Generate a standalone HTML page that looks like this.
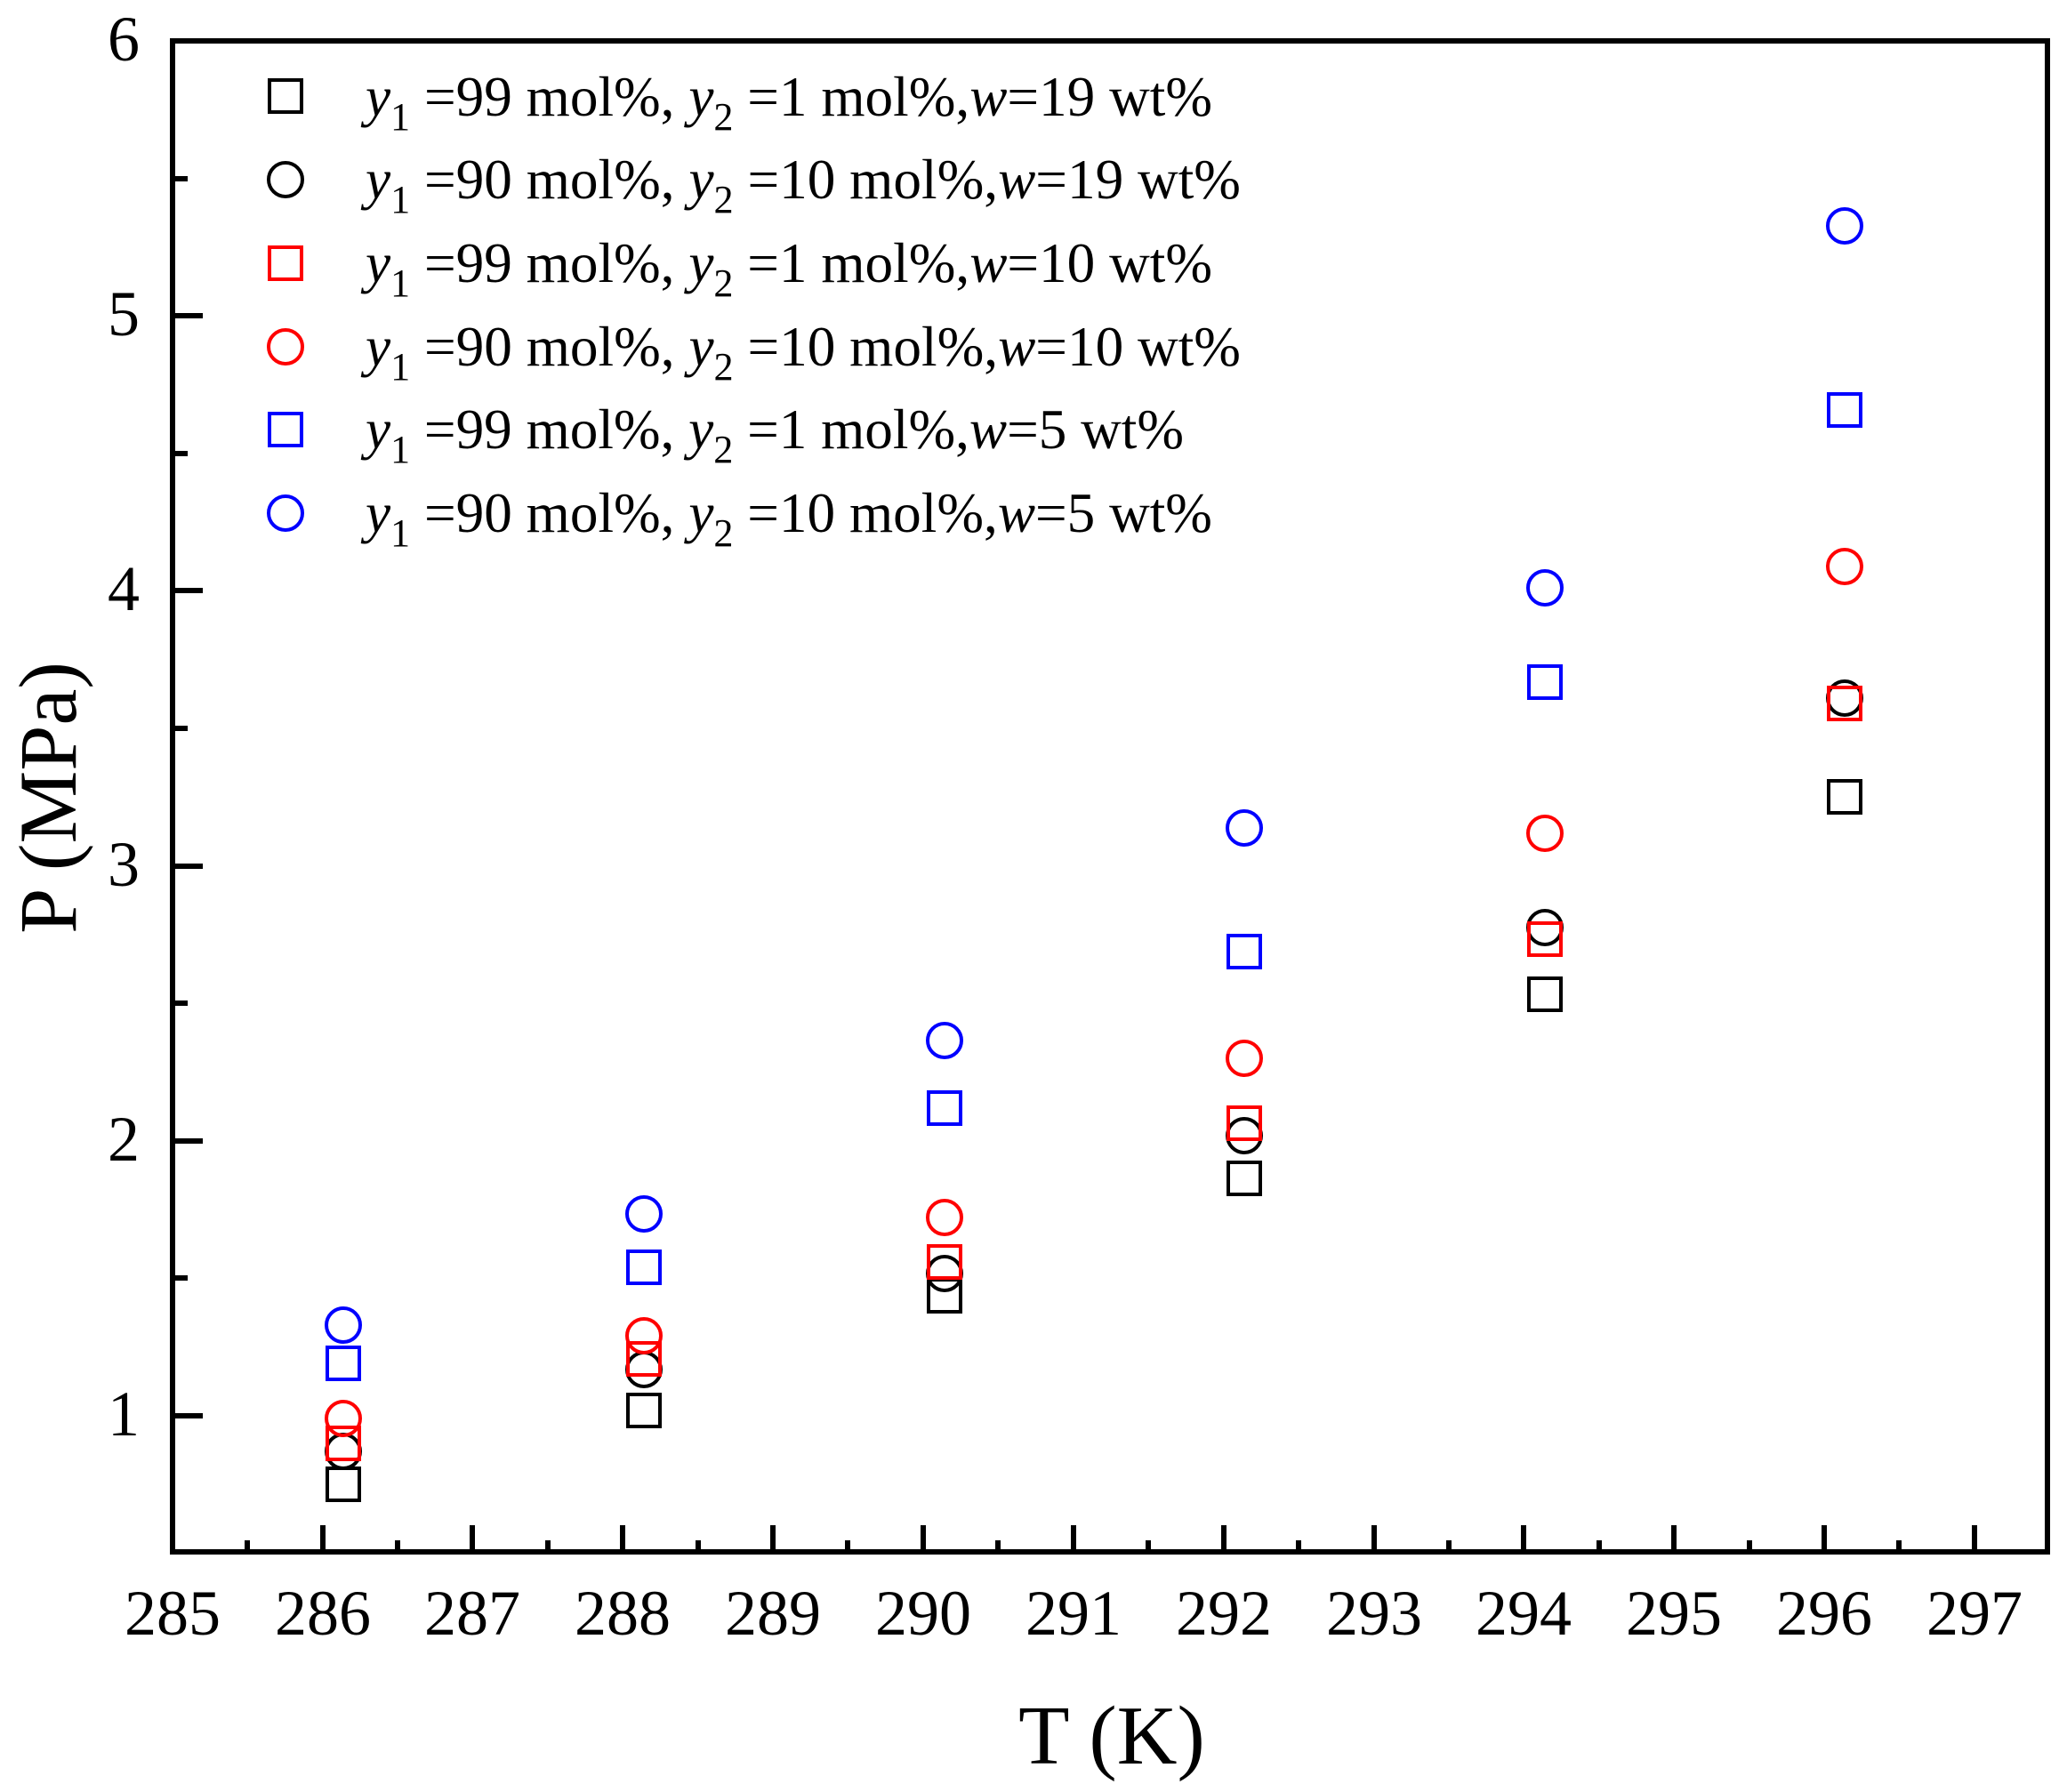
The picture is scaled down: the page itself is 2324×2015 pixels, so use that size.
<!DOCTYPE html>
<html><head><meta charset="utf-8"><style>
html,body{margin:0;padding:0;background:#fff;}
svg{display:block;}
text{font-family:"Liberation Serif",serif;fill:#000;}
</style></head><body>
<svg width="2324" height="2015" viewBox="0 0 2324 2015" xmlns="http://www.w3.org/2000/svg">
<rect x="194" y="46" width="2108" height="1699" fill="none" stroke="#000" stroke-width="6"/>
<g stroke="#000" stroke-width="6">
<line x1="363" y1="1745" x2="363" y2="1715"/><line x1="531" y1="1745" x2="531" y2="1715"/>
<line x1="700" y1="1745" x2="700" y2="1715"/><line x1="869" y1="1745" x2="869" y2="1715"/>
<line x1="1038" y1="1745" x2="1038" y2="1715"/><line x1="1207" y1="1745" x2="1207" y2="1715"/>
<line x1="1376" y1="1745" x2="1376" y2="1715"/><line x1="1545" y1="1745" x2="1545" y2="1715"/>
<line x1="1713" y1="1745" x2="1713" y2="1715"/><line x1="1882" y1="1745" x2="1882" y2="1715"/>
<line x1="2051" y1="1745" x2="2051" y2="1715"/><line x1="2220" y1="1745" x2="2220" y2="1715"/>
<line x1="278" y1="1745" x2="278" y2="1732"/><line x1="447" y1="1745" x2="447" y2="1732"/>
<line x1="616" y1="1745" x2="616" y2="1732"/><line x1="785" y1="1745" x2="785" y2="1732"/>
<line x1="953" y1="1745" x2="953" y2="1732"/><line x1="1122" y1="1745" x2="1122" y2="1732"/>
<line x1="1291" y1="1745" x2="1291" y2="1732"/><line x1="1460" y1="1745" x2="1460" y2="1732"/>
<line x1="1629" y1="1745" x2="1629" y2="1732"/><line x1="1798" y1="1745" x2="1798" y2="1732"/>
<line x1="1967" y1="1745" x2="1967" y2="1732"/><line x1="2135" y1="1745" x2="2135" y2="1732"/>
<line x1="194" y1="355" x2="228" y2="355"/><line x1="194" y1="664" x2="228" y2="664"/>
<line x1="194" y1="974" x2="228" y2="974"/><line x1="194" y1="1283" x2="228" y2="1283"/>
<line x1="194" y1="1592" x2="228" y2="1592"/>
<line x1="194" y1="201" x2="211" y2="201"/><line x1="194" y1="510" x2="211" y2="510"/>
<line x1="194" y1="819" x2="211" y2="819"/><line x1="194" y1="1128" x2="211" y2="1128"/>
<line x1="194" y1="1437" x2="211" y2="1437"/>
</g>
<g font-size="72" text-anchor="middle">
<text x="194" y="1838">285</text><text x="363" y="1838">286</text><text x="531" y="1838">287</text>
<text x="700" y="1838">288</text><text x="869" y="1838">289</text><text x="1038" y="1838">290</text>
<text x="1207" y="1838">291</text><text x="1376" y="1838">292</text><text x="1545" y="1838">293</text>
<text x="1713" y="1838">294</text><text x="1882" y="1838">295</text><text x="2051" y="1838">296</text>
<text x="2220" y="1838">297</text>
</g>
<g font-size="72" text-anchor="end">
<text x="157" y="68">6</text><text x="157" y="377">5</text><text x="157" y="686">4</text>
<text x="157" y="996">3</text><text x="157" y="1305">2</text><text x="157" y="1614">1</text>
</g>
<text x="1250" y="1983" font-size="94" text-anchor="middle">T (K)</text>
<text transform="translate(85,897) rotate(-90)" font-size="92" text-anchor="middle">P (MPa)</text>
<g stroke-width="4" fill="none">
<rect x="303" y="90" width="36" height="36" stroke="#000"/>
<circle cx="321" cy="202" r="19" stroke="#000"/>
<rect x="303" y="278" width="36" height="36" stroke="#f00"/>
<circle cx="321" cy="390" r="19" stroke="#f00"/>
<rect x="303" y="465" width="36" height="36" stroke="#00f"/>
<circle cx="321" cy="577" r="19" stroke="#00f"/>
</g>
<g font-size="63">
<text x="411" y="130" textLength="952" lengthAdjust="spacingAndGlyphs"><tspan font-style="italic">y</tspan><tspan font-size="44" dy="16">1</tspan><tspan dy="-16"> =99 mol%, </tspan><tspan font-style="italic">y</tspan><tspan font-size="44" dy="16">2</tspan><tspan dy="-16"> =1 mol%,</tspan><tspan font-style="italic">w</tspan><tspan>=19 wt%</tspan></text>
<text x="411" y="223" textLength="984" lengthAdjust="spacingAndGlyphs"><tspan font-style="italic">y</tspan><tspan font-size="44" dy="16">1</tspan><tspan dy="-16"> =90 mol%, </tspan><tspan font-style="italic">y</tspan><tspan font-size="44" dy="16">2</tspan><tspan dy="-16"> =10 mol%,</tspan><tspan font-style="italic">w</tspan><tspan>=19 wt%</tspan></text>
<text x="411" y="317" textLength="952" lengthAdjust="spacingAndGlyphs"><tspan font-style="italic">y</tspan><tspan font-size="44" dy="16">1</tspan><tspan dy="-16"> =99 mol%, </tspan><tspan font-style="italic">y</tspan><tspan font-size="44" dy="16">2</tspan><tspan dy="-16"> =1 mol%,</tspan><tspan font-style="italic">w</tspan><tspan>=10 wt%</tspan></text>
<text x="411" y="411" textLength="984" lengthAdjust="spacingAndGlyphs"><tspan font-style="italic">y</tspan><tspan font-size="44" dy="16">1</tspan><tspan dy="-16"> =90 mol%, </tspan><tspan font-style="italic">y</tspan><tspan font-size="44" dy="16">2</tspan><tspan dy="-16"> =10 mol%,</tspan><tspan font-style="italic">w</tspan><tspan>=10 wt%</tspan></text>
<text x="411" y="504" textLength="920" lengthAdjust="spacingAndGlyphs"><tspan font-style="italic">y</tspan><tspan font-size="44" dy="16">1</tspan><tspan dy="-16"> =99 mol%, </tspan><tspan font-style="italic">y</tspan><tspan font-size="44" dy="16">2</tspan><tspan dy="-16"> =1 mol%,</tspan><tspan font-style="italic">w</tspan><tspan>=5 wt%</tspan></text>
<text x="411" y="598" textLength="952" lengthAdjust="spacingAndGlyphs"><tspan font-style="italic">y</tspan><tspan font-size="44" dy="16">1</tspan><tspan dy="-16"> =90 mol%, </tspan><tspan font-style="italic">y</tspan><tspan font-size="44" dy="16">2</tspan><tspan dy="-16"> =10 mol%,</tspan><tspan font-style="italic">w</tspan><tspan>=5 wt%</tspan></text>
</g>
<g stroke-width="4" fill="none" transform="translate(-2,0)">
<g stroke="#000">
<rect x="370" y="1651" width="36" height="36"/>
<rect x="708" y="1568" width="36" height="36"/>
<rect x="1046" y="1439" width="36" height="36"/>
<rect x="1383" y="1307" width="36" height="36"/>
<rect x="1721" y="1100" width="36" height="36"/>
<rect x="2058" y="878" width="36" height="36"/>
</g>
<g stroke="#000">
<circle cx="388" cy="1632" r="19"/>
<circle cx="726" cy="1540" r="19"/>
<circle cx="1064" cy="1432" r="19"/>
<circle cx="1401" cy="1277" r="19"/>
<circle cx="1739" cy="1043" r="19"/>
<circle cx="2076" cy="785" r="19"/>
</g>
<g stroke="#f00">
<rect x="370" y="1605" width="36" height="36"/>
<rect x="708" y="1510" width="36" height="36"/>
<rect x="1046" y="1401" width="36" height="36"/>
<rect x="1383" y="1245" width="36" height="36"/>
<rect x="1721" y="1038" width="36" height="36"/>
<rect x="2058" y="773" width="36" height="36"/>
</g>
<g stroke="#f00">
<circle cx="388" cy="1595" r="19"/>
<circle cx="726" cy="1502" r="19"/>
<circle cx="1064" cy="1369" r="19"/>
<circle cx="1401" cy="1190" r="19"/>
<circle cx="1739" cy="937" r="19"/>
<circle cx="2076" cy="637" r="19"/>
</g>
<g stroke="#00f">
<rect x="370" y="1515" width="36" height="36"/>
<rect x="708" y="1407" width="36" height="36"/>
<rect x="1046" y="1228" width="36" height="36"/>
<rect x="1383" y="1052" width="36" height="36"/>
<rect x="1721" y="749" width="36" height="36"/>
<rect x="2058" y="443" width="36" height="36"/>
</g>
<g stroke="#00f">
<circle cx="388" cy="1490" r="19"/>
<circle cx="726" cy="1365" r="19"/>
<circle cx="1064" cy="1170" r="19"/>
<circle cx="1401" cy="931" r="19"/>
<circle cx="1739" cy="661" r="19"/>
<circle cx="2076" cy="254" r="19"/>
</g>
</g>
</svg>
</body></html>
